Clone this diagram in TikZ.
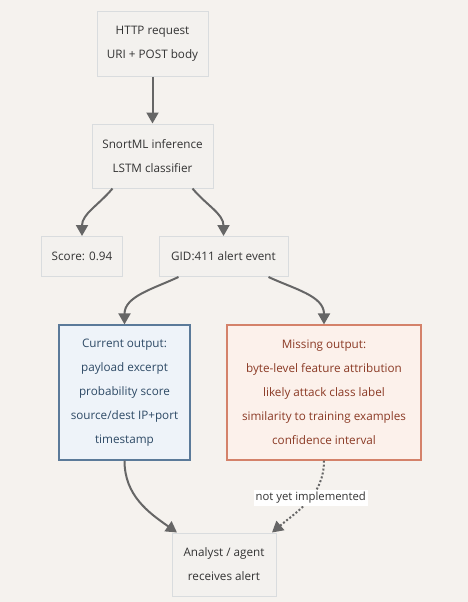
\documentclass[tikz,border=0pt]{standalone}
\usepackage{fontspec}
\setmainfont{Open Sans}
\usetikzlibrary{arrows.meta}
\definecolor{bg}{HTML}{F5F2EE}
\definecolor{nfill}{HTML}{F3F1EE}
\definecolor{nline}{HTML}{D9DCDE}
\definecolor{ntext}{HTML}{333333}
\definecolor{cfill}{HTML}{EEF3F9}
\definecolor{cline}{HTML}{5B7A99}
\definecolor{ctext}{HTML}{2E4A66}
\definecolor{mfill}{HTML}{FCF1EB}
\definecolor{mline}{HTML}{D4826A}
\definecolor{mtext}{HTML}{8B3A25}
\definecolor{edge}{HTML}{666666}
\begin{document}
\begin{tikzpicture}[x=1pt,y=-1pt,
  box/.style={draw=nline,fill=nfill,line width=1pt,text=ntext,align=center,font=\fontsize{11.7}{24}\selectfont,inner sep=0pt},
  cur/.style={box,draw=cline,fill=cfill,text=ctext,line width=1.2pt},
  mis/.style={box,draw=mline,fill=mfill,text=mtext,line width=1.2pt},
  arr/.style={draw=edge,line width=2pt,-{Triangle[length=11pt,width=12pt]}},
  lbl/.style={fill=white,text=ntext,font=\fontsize{11.3}{13}\selectfont,inner sep=2pt}]
\fill[bg] (0,0) rectangle (468,602);
\useasboundingbox (0,0) rectangle (468,602);
\node[box,minimum width=111pt,minimum height=64pt] (http) at (152.5,44) {HTTP request\\URI + POST body};
\node[box,minimum width=121pt,minimum height=64pt] (snort) at (152.5,156) {SnortML inference\\LSTM classifier};
\node[box,minimum width=81pt,minimum height=40pt] (score) at (82,256.5) {Score: 0.94};
\node[box,minimum width=129pt,minimum height=40pt] (gid) at (223.5,256.5) {GID:411 alert event};
\node[cur,minimum width=131pt,minimum height=135pt] (cur) at (124.5,392.5) {Current output:\\payload excerpt\\probability score\\source/dest IP+port\\timestamp};
\node[mis,minimum width=194pt,minimum height=135pt] (mis) at (324,392.5) {Missing output:\\byte-level feature attribution\\likely attack class label\\similarity to training examples\\confidence interval};
\node[box,minimum width=104pt,minimum height=63pt] (ana) at (224,564.5) {Analyst / agent\\receives alert};
\draw[arr] (http.south) -- (snort.north);
\draw[arr] ([xshift=-40pt]snort.south) to[out=-130,in=90] (score.north);
\draw[arr] ([xshift=40pt]snort.south) to[out=-50,in=90] (gid.north);
\draw[arr] ([xshift=-45pt]gid.south) to[out=-155,in=90] (cur.north);
\draw[arr] ([xshift=45pt]gid.south) to[out=-25,in=90] (mis.north);
\draw[arr] (cur.south) to[out=-90,in=145] ([xshift=-47pt]ana.north);
\draw[arr,dotted,line width=2pt] (mis.south) to[out=-90,in=40] node[lbl,pos=0.45] {not yet implemented} ([xshift=48pt]ana.north);
\end{tikzpicture}
\end{document}
